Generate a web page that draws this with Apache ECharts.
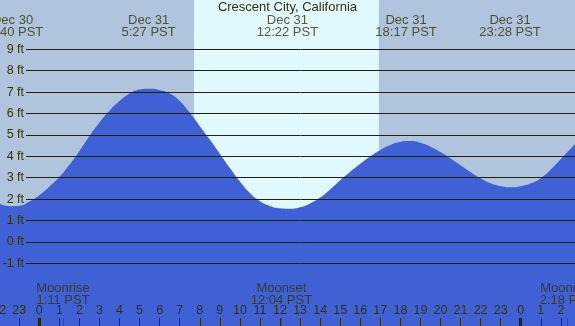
<!DOCTYPE html>
<html>
<head>
<meta charset="utf-8">
<script src="https://cdn.jsdelivr.net/npm/echarts@6/dist/echarts.min.js"></script>
<style>
  html, body { margin: 0; padding: 0; }
  #tide { width: 575px; height: 326px; }
</style>
</head>
<body>
<div id="tide"></div>
<script>
// tide height, every half hour, hours counted from Dec 31 0:00
const tideHours = [];
for (let h = -2; h <= 27; h += 0.5) tideHours.push(h);
const tideFeet = [
  1.8, 1.67, 1.69, 1.88, 2.18, 2.58, 3.03, 3.6, 4.25, 4.95,    // -2 .. 2.5
  5.58, 6.13, 6.58, 6.93, 7.12, 7.16, 7.1, 6.93, 6.58, 6.03,   // 3 .. 7.5
  5.41, 4.78, 4.12, 3.45, 2.82, 2.28, 1.9, 1.68, 1.57, 1.55,   // 8 .. 12.5
  1.62, 1.8, 2.07, 2.45, 2.88, 3.28, 3.65, 4.0, 4.3, 4.53,     // 13 .. 17.5
  4.67, 4.71, 4.63, 4.45, 4.2, 3.9, 3.58, 3.26, 2.97, 2.74,    // 18 .. 22.5
  2.6, 2.55, 2.6, 2.74, 2.98, 3.38, 3.87, 4.36, 4.85           // 23 .. 27
];

// high / low tide labels
const extremeHours = [-1.333, 5.45, 12.367, 18.283, 23.467];
const extremeLabels = ['Dec 30\n22:40 PST', 'Dec 31\n5:27 PST', 'Dec 31\n12:22 PST', 'Dec 31\n18:17 PST', 'Dec 31\n23:28 PST'];

// moon events
const moonHours = [1.183, 12.067, 26.3];
const moonLabels = ['Moonrise\n1:11 PST', 'Moonset\n12:04 PST', 'Moonrise\n2:18 PST'];

// daylight
const sunriseHour = 7.71;
const sunsetHour = 16.93;

const hourTicks = [];
for (let h = -2; h <= 26; h++) hourTicks.push(h);
const midnights = [0, 24];

const txt = '#333300';
const font = 'Liberation Sans';
const fs = 12.5;

const yMin = -3.93, yMax = 11.304; // full-height scale of the water grid
const tickTop = -3.556;

const myChart = echarts.init(document.getElementById('tide'));

const option = {
  animation: false,
  title: {
    text: 'Crescent City, California',
    left: 'center',
    top: 1,
    padding: 0,
    textStyle: { color: txt, fontFamily: font, fontSize: 13, fontWeight: 'normal' }
  },
  grid: [
    { left: -0.82, right: 0, top: 0, bottom: 0, outerBoundsMode: 'none', show: true, backgroundColor: '#b0c4de', borderWidth: 0 },
    { left: 26, right: 0, top: 49.3, bottom: 62.7, outerBoundsMode: 'none' }
  ],
  xAxis: [
    {
      type: 'value', gridIndex: 0, min: -2, max: 26.705, z: 5,
      axisLine: { show: false, onZero: false },
      splitLine: { show: false },
      axisTick: { inside: true, length: 8, customValues: hourTicks, lineStyle: { color: txt } },
      axisLabel: {
        inside: true, margin: 9, customValues: hourTicks,
        formatter: v => String(((v % 24) + 24) % 24),
        color: txt, fontFamily: font, fontSize: fs
      }
    },
    { type: 'value', gridIndex: 1, min: 0, max: 1, show: false }
  ],
  yAxis: [
    { type: 'value', gridIndex: 0, min: yMin, max: yMax, show: false },
    {
      type: 'value', gridIndex: 1, min: -1, max: 9, interval: 1, z: 5,
      axisLine: { show: false },
      axisTick: { show: false },
      axisLabel: { formatter: '{value} ft', margin: 2, color: txt, fontFamily: font, fontSize: fs },
      splitLine: { lineStyle: { color: '#222200', width: 1 } }
    }
  ],
  series: [
    {
      // daylight band
      type: 'line', xAxisIndex: 0, yAxisIndex: 0, data: [], z: 1, silent: true,
      markArea: {
        silent: true,
        itemStyle: { color: '#e0f8ff' },
        data: [[{ xAxis: sunriseHour }, { xAxis: sunsetHour }]]
      }
    },
    {
      name: 'Tide', type: 'line', xAxisIndex: 0, yAxisIndex: 0, z: 2,
      data: tideHours.map((h, i) => [h, tideFeet[i]]),
      smooth: 0.5, symbol: 'none',
      lineStyle: { width: 0 },
      areaStyle: { color: '#4060d5', opacity: 1, origin: 'start' }
    },
    {
      // tide extreme labels
      type: 'scatter', xAxisIndex: 0, yAxisIndex: 0, z: 6, symbolSize: 0,
      data: extremeHours.map((h, i) => ({ value: [h, 10.09], name: extremeLabels[i] })),
      label: {
        show: true, position: 'inside', formatter: '{b}', lineHeight: 12,
        color: txt, fontFamily: font, fontSize: 13
      }
    },
    {
      // moon labels and ticks
      type: 'scatter', xAxisIndex: 0, yAxisIndex: 0, z: 6, symbolSize: 0,
      data: moonHours.map((h, i) => ({ value: [h, -2.45], name: moonLabels[i] })),
      label: {
        show: true, position: 'inside', formatter: '{b}', lineHeight: 12,
        color: txt, fontFamily: font, fontSize: 13
      },
      markLine: {
        silent: true, symbol: 'none', label: { show: false },
        data: moonHours.map(h => [
          { coord: [h, yMin], lineStyle: { color: '#ff0000', width: 1, type: 'solid' } },
          { coord: [h, tickTop] }
        ]).concat(midnights.map(h => [
          { coord: [h, yMin], lineStyle: { color: '#222200', width: 3, type: 'solid' } },
          { coord: [h, tickTop] }
        ]))
      }
    }
  ]
};

myChart.setOption(option);
</script>
</body>
</html>
